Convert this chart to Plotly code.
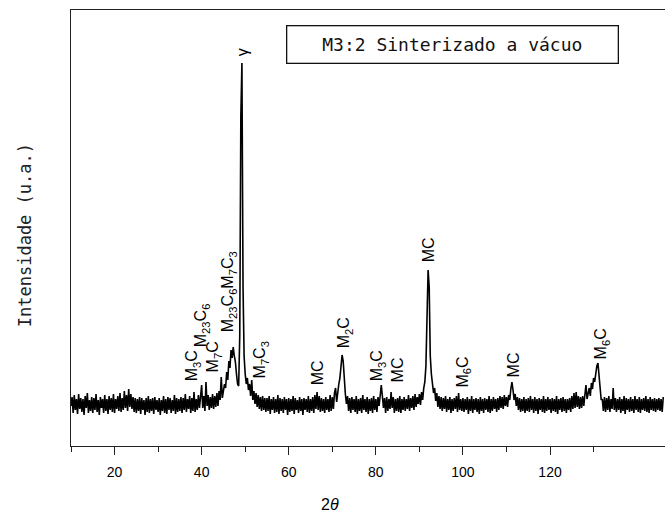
import plotly.graph_objects as go

# ---- data (2theta in degrees, intensity in arbitrary units) ----
theta_start = 10.0
theta_step = 0.25

c10 = [40,49,33,51,36,47,32,52,37,48,34,47,31,50,38,53,33,46,35,49]
c15 = [33,48,36,52,34,46,31,49,38,47,33,51,35,47,32,50,36,48,34,52]
c20 = [33,47,37,50,35,53,34,48,36,55,38,51,35,57,39,52,37,49,34,48]
c25 = [33,47,35,49,32,48,36,46,31,48,34,50,33,47,35,48,32,49,36,46]
c30 = [34,48,31,46,35,50,33,47,32,49,36,48,33,46,35,51,32,48,34,47]
c35 = [35,49,33,48,36,52,34,47,37,50,33,48,35,54,34,47,36,51,38,50]
c40 = [61,38,50,35,64,40,51,36,49,38,52,37,50,39,53,40,55,46,69,48]
c45 = [55,62,58,74,66,85,78,96,88,99,90,84,72,62,60,110,330,383,160,90]
c50 = [72,62,68,56,62,50,66,46,55,42,53,39,51,37,49,35,50,36,48,34]
c55 = [48,35,50,32,47,36,49,33,47,34,51,32,48,35,47,33,49,36,47,31]
c60 = [48,34,47,35,50,32,48,36,46,33,49,35,47,31,48,36,47,34,50,33]
c65 = [47,35,49,33,51,37,54,36,50,34,48,35,47,33,49,36,47,34,51,35]
c70 = [49,37,53,58,44,55,62,68,80,91,85,62,52,42,50,35,48,33,49,36]
c75 = [47,34,50,32,47,35,48,33,51,36,47,34,49,32,47,35,48,33,50,36]
c80 = [47,34,49,40,52,61,50,38,48,33,49,35,47,37,54,38,49,33,47,35]
c85 = [48,34,50,33,47,36,49,35,47,37,51,35,48,38,50,36,52,39,49,42]
c90 = [52,41,54,46,58,64,80,120,176,159,90,72,62,53,58,45,53,39,50,37]
c95 = [49,35,48,37,50,34,47,36,49,33,47,35,48,37,50,34,53,36,47,35]
c100 = [48,34,47,36,49,32,47,35,50,33,47,36,48,34,47,32,49,35,47,33]
c105 = [48,36,47,34,50,33,47,35,49,37,47,34,48,36,50,38,49,37,51,40]
c110 = [49,39,51,46,57,64,56,46,52,40,49,36,48,34,47,35,49,33,47,35]
c115 = [48,34,50,36,47,33,49,35,47,32,48,36,47,34,50,33,47,35,49,36]
c120 = [47,33,48,35,47,34,50,32,47,36,48,34,49,35,47,33,47,36,48,34]
c125 = [50,37,53,38,54,39,50,37,49,38,50,40,51,61,47,52,58,50,63,57]
c130 = [68,64,76,80,83,70,55,46,47,35,49,34,48,36,50,34,47,37,58,36]
c135 = [48,34,47,36,49,33,47,35,50,32,48,36,47,34,49,35,47,33,50,36]
c140 = [47,34,49,33,47,36,48,35,50,34,47,33,49,36,47,35,48,34,47,36]
c145 = [48,35,47,34,49]

segments = [c10, c15, c20, c25, c30, c35, c40, c45, c50, c55, c60, c65, c70,
            c75, c80, c85, c90, c95, c100, c105, c110, c115, c120, c125,
            c130, c135, c140, c145]
intensity = [v for seg in segments for v in seg]
two_theta = [theta_start + theta_step * i for i in range(len(intensity))]

# peak labels
label_text = ["γ", "M<sub>3</sub>C", "M<sub>23</sub>C<sub>6</sub>", "M<sub>7</sub>C",
              "M<sub>23</sub>C<sub>6</sub>M<sub>7</sub>C<sub>3</sub>", "M<sub>7</sub>C<sub>3</sub>",
              "MC", "M<sub>2</sub>C", "M<sub>3</sub>C", "MC", "MC", "M<sub>6</sub>C",
              "MC", "M<sub>6</sub>C"]
label_x = [49.33, 37.85, 39.9, 42.7, 46.1, 53.5, 66.55, 72.75, 80.35, 84.95,
           92.05, 99.9, 111.6, 131.8]
label_y = [394, 80, 121, 89, 154, 86, 73, 113, 80, 76, 196, 74, 81, 102]

x_major = [20, 40, 60, 80, 100, 120]
x_minor = [10, 30, 50, 70, 90, 110, 130]

legend_text = "M3:2 Sinterizado a vácuo"
x_title = "2<i>θ</i>"
y_title = "Intensidade (u.a.)"

# ---- figure ----
fig = go.Figure()
fig.add_trace(go.Scatter(x=two_theta, y=intensity, mode="lines",
                         line=dict(color="black", width=1.6), showlegend=False,
                         hoverinfo="skip"))

for t, xv, yv in zip(label_text, label_x, label_y):
    fig.add_annotation(x=xv, y=yv, xref="x", yref="y", text=t, textangle=-90,
                       showarrow=False, xanchor="center", yanchor="middle",
                       font=dict(family="Liberation Sans, Arial", size=16, color="black"))

fig.add_annotation(x=0.643, y=0.922, xref="paper", yref="paper", text=legend_text,
                   showarrow=False, xanchor="center", yanchor="middle",
                   width=328, height=34, borderpad=1, bordercolor="#111",
                   borderwidth=1.3, bgcolor="white",
                   font=dict(family="DejaVu Sans Mono", size=18, color="#111"))

fig.add_annotation(x=0.436, y=-0.135, xref="paper", yref="paper", text=x_title,
                   showarrow=False, xanchor="center", yanchor="middle",
                   font=dict(family="Liberation Sans, Arial", size=16, color="black"))

fig.add_annotation(x=-0.077, y=0.484, xref="paper", yref="paper", text=y_title,
                   showarrow=False, xanchor="center", yanchor="middle", textangle=-90,
                   font=dict(family="DejaVu Sans Mono", size=17, color="#222"))

fig.update_layout(
    width=665, height=515,
    margin=dict(l=71, r=0, t=10, b=69),
    paper_bgcolor="white", plot_bgcolor="white",
    xaxis=dict(range=[10, 146.4], showgrid=False, zeroline=False,
               showline=True, linecolor="#222", linewidth=1.4, mirror=True,
               ticks="outside", ticklen=8, tickwidth=1.4, tickcolor="#222",
               tickmode="array", tickvals=x_major, ticklabelstandoff=5,
               minor=dict(tickmode="array", tickvals=x_minor, ticks="outside",
                          ticklen=5, tickwidth=1.4, tickcolor="#222"),
               tickfont=dict(family="Liberation Sans, Arial", size=14, color="black")),
    yaxis=dict(range=[0, 436], showgrid=False, zeroline=False,
               showline=True, linecolor="#222", linewidth=1.4, mirror=False,
               showticklabels=False, ticks=""),
)

fig.write_html("out.html", config={"displayModeBar": False},
               post_script="document.body.style.margin='0';document.body.style.padding='0';")
